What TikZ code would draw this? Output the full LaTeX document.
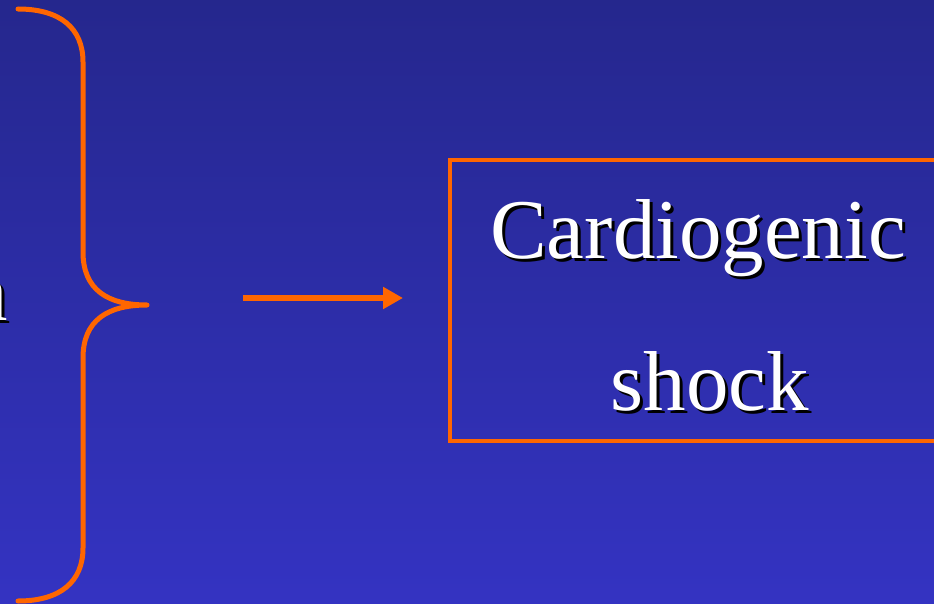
\documentclass[tikz,border=0pt]{standalone}
\usepackage{fontspec}
\setmainfont{Liberation Serif}
\usetikzlibrary{arrows.meta}
\definecolor{bgtop}{RGB}{37,39,141}
\definecolor{bgbot}{RGB}{52,51,194}
\definecolor{accent}{RGB}{255,102,0}
\newcommand{\shadowed}[1]{\makebox[0pt][l]{\hspace{3pt}\raisebox{-3pt}{\color{black}#1}}#1}
\begin{document}
\begin{tikzpicture}[x=1pt,y=-1pt,
  orange line/.style={draw=accent, line width=5pt, line cap=round, line join=round},
  bigtext/.style={font=\fontsize{85}{100}\selectfont, inner sep=0pt, anchor=base, text=white}]
\useasboundingbox (0,0) rectangle (934,604);
\shade[top color=bgtop, bottom color=bgbot] (0,0) rectangle (934,604);
% partial word at left edge
\node[bigtext, anchor=base east] (n) at (8.5,320) {\shadowed{n}};
% brace
\coordinate (bTop) at (18,9);
\coordinate (bTip) at (147,305);
\coordinate (bBot) at (18,601);
\draw[orange line] (bTop) .. controls (60,9) and (83,28) .. (83,62) -- (83,252)
  .. controls (83,290) and (108,305) .. (bTip)
  .. controls (108,305) and (83,320) .. (83,358) -- (83,548)
  .. controls (83,582) and (60,601) .. (bBot);
% arrow
\coordinate (aS) at (243,298);
\coordinate (aE) at (403,298);
\draw[draw=accent, line width=6pt, -{Triangle[length=20pt,width=21pt]}] (aS) -- (aE);
% box
\draw[draw=accent, line width=4.5pt] (450,160) rectangle (960,441);
% texts
\node[bigtext] (c1) at (698,258) {\shadowed{Cardiogenic}};
\node[bigtext] (c2) at (710,410) {\shadowed{shock}};
\end{tikzpicture}
\end{document}
